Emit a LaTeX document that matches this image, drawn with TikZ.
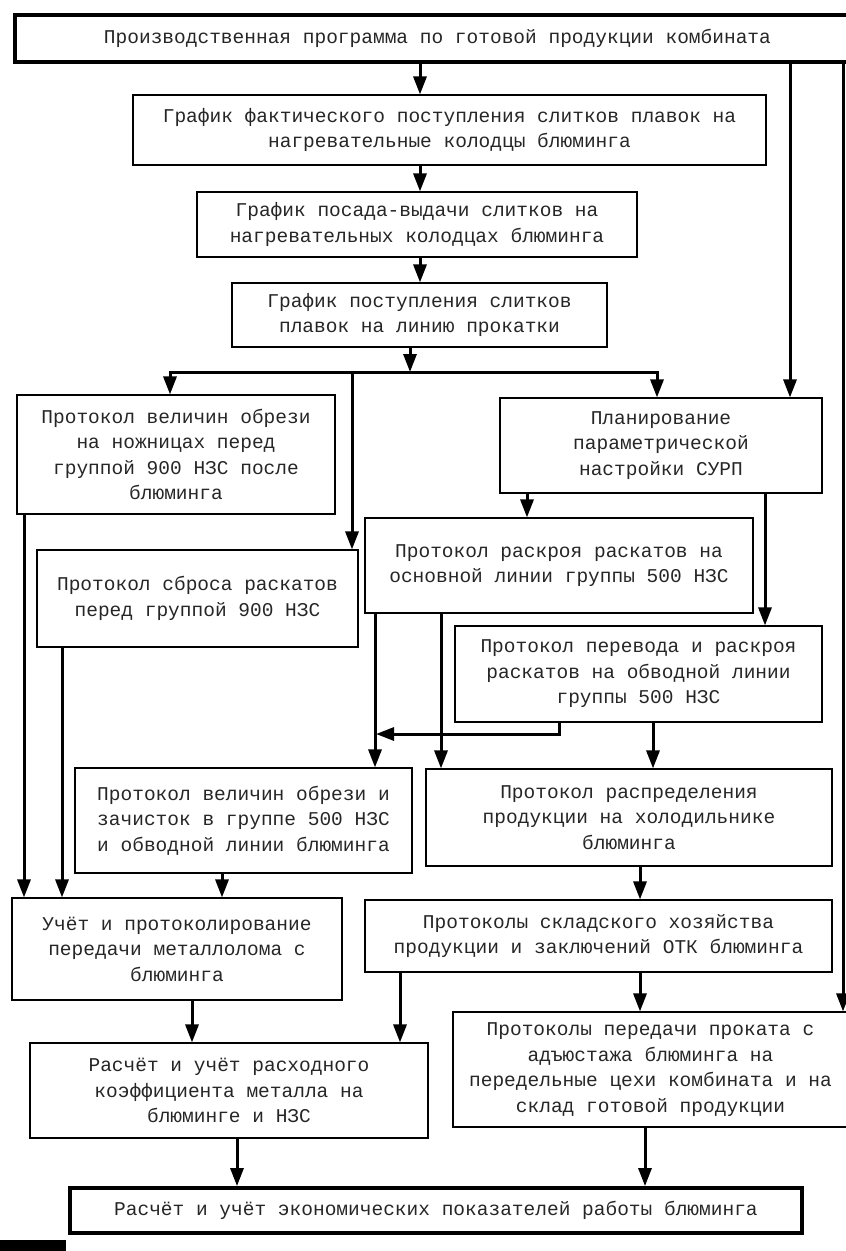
\documentclass[tikz,border=0pt]{standalone}
\usepackage{fontspec}
\newfontfamily\mono{Liberation Mono}
\usetikzlibrary{arrows.meta}
\begin{document}
\begin{tikzpicture}[x=1pt,y=-1pt,
  box/.style={draw, line width=1.1pt, align=center, inner sep=0pt,
    font=\mono\fontsize{19.5}{25.5}\selectfont, text=black!85},
  bigbox/.style={box, line width=3.8pt},
  conn/.style={line width=3pt, -{Triangle[width=13pt,length=18pt]}},
  conn2/.style={line width=3pt, line join=miter, {Triangle[width=13pt,length=18pt]}-{Triangle[width=13pt,length=18pt]}}]
\useasboundingbox (0,0) rectangle (846,1251);
\begin{scope}
\clip (0,0) rectangle (846,1251);
\fill[white] (0,0) rectangle (846,1251);
% boxes
\node[bigbox, minimum width=845pt, minimum height=47pt] (prog) at (437.5,38.5) {Производственная программа по готовой продукции комбината};
\node[box, minimum width=633pt, minimum height=70pt] (g1) at (449.5,130) {График фактического поступления слитков плавок на\\нагревательные колодцы блюминга};
\node[box, minimum width=440pt, minimum height=65pt] (g2) at (417,224.5) {График посада-выдачи слитков на\\нагревательных колодцах блюминга};
\node[box, minimum width=375pt, minimum height=64pt] (g3) at (419.5,315) {График поступления слитков\\плавок на линию прокатки};
\node[box, minimum width=318pt, minimum height=119pt] (p1) at (176,454.5) {Протокол величин обрези\\на ножницах перед\\группой 900 НЗС после\\блюминга};
\node[box, minimum width=322pt, minimum height=95pt] (plan) at (661,445.5) {Планирование\\параметрической\\настройки СУРП};
\node[box, minimum width=388pt, minimum height=95pt] (p2) at (559,565.5) {Протокол раскроя раскатов на\\основной линии группы 500 НЗС};
\node[box, minimum width=321pt, minimum height=97pt] (p3) at (197.5,598.5) {Протокол сброса раскатов\\перед группой 900 НЗС};
\node[box, minimum width=367pt, minimum height=96pt] (p4) at (638.5,674) {Протокол перевода и раскроя\\раскатов на обводной линии\\группы 500 НЗС};
\node[box, minimum width=337pt, minimum height=105pt] (p5) at (243.5,820.5) {Протокол величин обрези и\\зачисток в группе 500 НЗС\\и обводной линии блюминга};
\node[box, minimum width=406pt, minimum height=97pt] (p6) at (629,817.5) {Протокол распределения\\продукции на холодильнике\\блюминга};
\node[box, minimum width=330pt, minimum height=102pt] (u1) at (177,949) {Учёт и протоколирование\\передачи металлолома с\\блюминга};
\node[box, minimum width=467pt, minimum height=72pt] (s1) at (598.5,936) {Протоколы складского хозяйства\\продукции и заключений ОТК блюминга};
\node[box, minimum width=395pt, minimum height=115pt] (t1) at (650.5,1069.5) {Протоколы передачи проката с\\адъюстажа блюминга на\\передельные цехи комбината и на\\склад готовой продукции};
\node[box, minimum width=398pt, minimum height=95pt] (r1) at (229,1090.5) {Расчёт и учёт расходного\\коэффициента металла на\\блюминге и НЗС};
\node[bigbox, minimum width=732pt, minimum height=45pt] (fin) at (436,1210.5) {Расчёт и учёт экономических показателей работы блюминга};
% helper coordinates
\coordinate (k420) at (420,0);
\coordinate (k410) at (410,0);
\coordinate (busL) at (170,372);
\coordinate (busR) at (657,372);
\coordinate (busM) at (410,372);
\coordinate (bus352) at (352,372);
\coordinate (k790) at (790,0);
\coordinate (k843) at (843,0);
\coordinate (k527) at (527,0);
\coordinate (k765) at (765,0);
\coordinate (k24) at (24,0);
\coordinate (k62) at (62,0);
\coordinate (k375) at (375,0);
\coordinate (k441) at (441,0);
\coordinate (k653) at (653,0);
\coordinate (k222) at (222,0);
\coordinate (k640) at (640,0);
\coordinate (k192) at (192,0);
\coordinate (k400) at (400,0);
\coordinate (k237) at (237,0);
\coordinate (k645) at (645,0);
\coordinate (jog) at (559,734);
\coordinate (jogend) at (376,734);
% connectors
\draw[conn] (prog.south -| k420) -- (g1.north -| k420);
\draw[conn] (g1.south -| k420) -- (g2.north -| k420);
\draw[conn] (g2.south -| k420) -- (g3.north -| k420);
\draw[conn] (g3.south -| k410) -- (busM);
\draw[conn2] (p1.north -| busL) -- (busL) -- (busR) -- (plan.north -| busR);
\draw[conn] (bus352) -- (p3.north -| bus352);
\draw[conn] (prog.south -| k790) -- (plan.north -| k790);
\draw[conn] (prog.south -| k843) -- (t1.north -| k843);
\draw[conn] (plan.south -| k527) -- (p2.north -| k527);
\draw[conn] (plan.south -| k765) -- (p4.north -| k765);
\draw[conn] (p1.south -| k24) -- (u1.north -| k24);
\draw[conn] (p3.south -| k62) -- (u1.north -| k62);
\draw[conn] (p2.south -| k375) -- (p5.north -| k375);
\draw[conn] (p2.south -| k441) -- (p6.north -| k441);
\draw[conn, line join=miter] (p4.south -| jog) -- (jog) -- (jogend);
\draw[conn] (p4.south -| k653) -- (p6.north -| k653);
\draw[conn] (p5.south -| k222) -- (u1.north -| k222);
\draw[conn] (p6.south -| k640) -- (s1.north -| k640);
\draw[conn] (u1.south -| k192) -- (r1.north -| k192);
\draw[conn] (s1.south -| k400) -- (r1.north -| k400);
\draw[conn] (s1.south -| k640) -- (t1.north -| k640);
\draw[conn] (r1.south -| k237) -- (fin.north -| k237);
\draw[conn] (t1.south -| k645) -- (fin.north -| k645);
\fill (0,1240) rectangle (66,1251);
\end{scope}
\end{tikzpicture}
\end{document}
